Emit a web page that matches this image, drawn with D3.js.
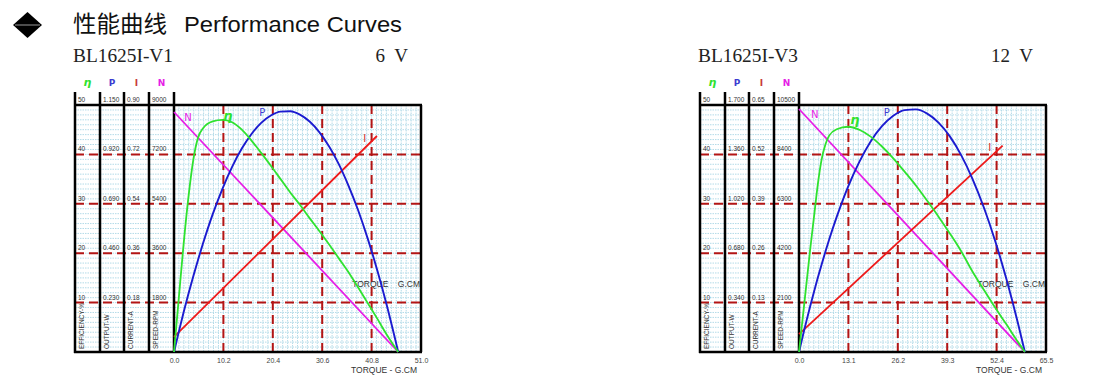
<!DOCTYPE html>
<html lang="zh">
<head>
<meta charset="UTF-8">
<title>性能曲线 Performance Curves</title>
<script src="https://d3js.org/d3.v7.min.js"></script>
<style>
  html, body { margin: 0; background: #fff; }
  svg { display: block; }
  .small { font-family: "Liberation Sans", Arial, sans-serif; font-size: 6.5px; fill: #333; }
  .axis-name { font-family: "Liberation Sans", Arial, sans-serif; font-size: 8.5px; fill: #333; white-space: pre; }
  .model { font-family: "Liberation Serif", "DejaVu Serif", serif; font-size: 19px; fill: #222; white-space: pre; }
</style>
</head>
<body>
<svg width="1100" height="380"></svg>
<script>
// ---- data, left chart (6 V) ----
const leftTorque  = [0, 1, 2, 3, 4, 5, 6, 8, 10, 12, 14, 16, 18, 20, 22, 24, 26, 28, 30, 32, 34, 36, 38, 40, 42, 44, 46.3];
const leftEff     = [0, 11, 22, 31.5, 39, 43.5, 45.3, 46.7, 47, 46.5, 45, 42.8, 40.3, 37.7, 35, 32.3, 29.8, 27.1, 24.5, 21.8, 19, 16.2, 13.1, 9.9, 6.7, 3.4, 0];
const leftPower   = [0, 0.095, 0.186, 0.272, 0.354, 0.432, 0.506, 0.642, 0.760, 0.862, 0.947, 1.015, 1.067, 1.101, 1.119, 1.121, 1.105, 1.073, 1.024, 0.958, 0.876, 0.776, 0.661, 0.528, 0.378, 0.212, 0];
const leftCurT    = [0, 41.9];
const leftCurrent = [0.055, 0.787];
const leftSpdT    = [0, 46.3];
const leftSpeed   = [8745, 0];
const leftXTicks  = [0, 10.2, 20.4, 30.6, 40.8, 51.0];
const leftEffTicks = ["10", "20", "30", "40", "50"];
const leftPowTicks = ["0.230", "0.460", "0.690", "0.920", "1.150"];
const leftCurTicks = ["0.18", "0.36", "0.54", "0.72", "0.90"];
const leftSpdTicks = ["1800", "3600", "5400", "7200", "9000"];

// ---- data, right chart (12 V) ----
const rightTorque  = [0, 1, 2, 3, 4, 5, 6, 7, 8, 10, 13, 16, 19, 22, 25, 28, 31, 34, 37, 40, 43, 46, 49, 52, 55, 58, 59.9];
const rightEff     = [0, 7, 14, 21, 27.5, 34, 39, 42, 43.8, 45.1, 45.6, 45, 43.6, 41.6, 39.2, 36.5, 33.7, 30.6, 27.4, 24, 20.4, 16.3, 12.6, 9, 5.6, 2.1, 0];
const rightPower   = [0, 0.110, 0.216, 0.318, 0.417, 0.512, 0.603, 0.690, 0.774, 0.930, 1.137, 1.309, 1.449, 1.554, 1.626, 1.665, 1.670, 1.641, 1.579, 1.484, 1.355, 1.192, 0.996, 0.766, 0.502, 0.205, 0];
const rightCurT    = [0, 54.0];
const rightCurrent = [0.047, 0.543];
const rightSpdT    = [0, 59.9];
const rightSpeed   = [10330, 0];
const rightXTicks  = [0, 13.1, 26.2, 39.3, 52.4, 65.5];
const rightEffTicks = ["10", "20", "30", "40", "50"];
const rightPowTicks = ["0.340", "0.680", "1.020", "1.360", "1.700"];
const rightCurTicks = ["0.13", "0.26", "0.39", "0.52", "0.65"];
const rightSpdTicks = ["2100", "4200", "6300", "8400", "10500"];

const colors = { eff: "#2fe22f", pow: "#1b1bd0", cur: "#ee1a1a", spd: "#e61ee6", grid: "#b31515", fine: "#b4dbe8" };

const svg = d3.select("svg");

// title
svg.append("path")
   .attr("d", "M27.5,12 L42,25 L27.5,38 L13,25 Z")
   .attr("fill", "#000");
svg.append("line").attr("x1", 15).attr("x2", 40).attr("y1", 25).attr("y2", 25)
   .attr("stroke", "#fff").attr("stroke-width", 0.6);
svg.append("text")
   .attr("x", 73).attr("y", 32)
   .attr("font-family", "'Noto Sans CJK SC', sans-serif").attr("font-size", 23)
   .attr("textLength", 94).attr("lengthAdjust", "spacingAndGlyphs")
   .attr("fill", "#111")
   .text("性能曲线");
svg.append("text")
   .attr("x", 184).attr("y", 32)
   .attr("font-family", "'Liberation Sans', Arial, sans-serif").attr("font-size", 22)
   .attr("textLength", 218).attr("lengthAdjust", "spacingAndGlyphs")
   .attr("fill", "#111")
   .text("Performance Curves");

function drawChart(ox, c) {
  const g = svg.append("g").attr("transform", `translate(${ox},0)`);
  const colX = [75, 100, 124, 149, 174];
  const left = 174, right = 421, top = 105, bottom = 352;

  const x = d3.scaleLinear().domain([0, c.xTicks[c.xTicks.length - 1]]).range([left, right]);
  const yE = d3.scaleLinear().domain([0, 50]).range([bottom, top]);
  const yP = d3.scaleLinear().domain([0, +c.powTicks[4]]).range([bottom, top]);
  const yI = d3.scaleLinear().domain([0, +c.curTicks[4]]).range([bottom, top]);
  const yN = d3.scaleLinear().domain([0, +c.spdTicks[4]]).range([bottom, top]);

  // model name and voltage
  g.append("text").attr("class", "model").attr("x", 73).attr("y", 62)
   .attr("textLength", 100).attr("lengthAdjust", "spacingAndGlyphs").text(c.model);
  g.append("text").attr("class", "model").attr("x", 408).attr("y", 62)
   .attr("text-anchor", "end").text(c.volt);

  // fine dotted grid
  const fineX = d3.range(1, 50).map(i => x.domain()[1] * i / 50);
  const fineY = d3.range(1, 50);
  g.append("g").selectAll("line").data(fineX).join("line")
   .attr("x1", d => x(d)).attr("x2", d => x(d)).attr("y1", top).attr("y2", bottom)
   .attr("stroke", colors.fine).attr("stroke-width", 1).attr("stroke-dasharray", "1.5,1");
  g.append("g").selectAll("line").data(fineY).join("line")
   .attr("x1", colX[0]).attr("x2", right).attr("y1", d => yE(d)).attr("y2", d => yE(d))
   .attr("stroke", colors.fine).attr("stroke-width", 1).attr("stroke-dasharray", "1.5,1");

  // major dashed grid
  g.append("g").selectAll("line").data([10, 20, 30, 40]).join("line")
   .attr("x1", colX[0]).attr("x2", right).attr("y1", d => yE(d)).attr("y2", d => yE(d))
   .attr("stroke", colors.grid).attr("stroke-width", 2).attr("stroke-dasharray", "9,5");
  g.append("g").selectAll("line").data(c.xTicks.slice(1, -1)).join("line")
   .attr("x1", d => x(d)).attr("x2", d => x(d)).attr("y1", top).attr("y2", bottom)
   .attr("stroke", colors.grid).attr("stroke-width", 2).attr("stroke-dasharray", "9,5");

  // frame
  const frame = g.append("g").attr("stroke", "#000").attr("stroke-width", 2.5);
  colX.forEach(cx => frame.append("line").attr("x1", cx).attr("x2", cx).attr("y1", 92).attr("y2", bottom + 1));
  frame.append("line").attr("x1", colX[0] - 1).attr("x2", right + 1).attr("y1", top).attr("y2", top);
  frame.append("line").attr("x1", colX[0] - 1).attr("x2", right + 1).attr("y1", bottom).attr("y2", bottom);
  frame.append("line").attr("x1", right).attr("x2", right).attr("y1", top).attr("y2", bottom);

  // column headers
  const heads = [["η", colors.eff], ["P", "#3c3cd0"], ["I", "#c83a3a"], ["N", colors.spd]];
  heads.forEach((h, i) => {
    g.append("text").attr("x", (colX[i] + colX[i + 1]) / 2).attr("y", 86)
     .attr("text-anchor", "middle").attr("font-family", "'DejaVu Sans', sans-serif")
     .attr("font-size", h[0] === "η" ? 11 : 9).attr("font-weight", "bold")
     .attr("font-style", h[0] === "η" ? "italic" : "normal")
     .attr("fill", h[1]).text(h[0]);
  });

  // column tick labels
  const cols = [c.effTicks, c.powTicks, c.curTicks, c.spdTicks];
  cols.forEach((arr, i) => {
    g.append("g").selectAll("text").data(arr).join("text")
     .attr("class", "small")
     .attr("x", colX[i] + 3)
     .attr("y", (d, j) => j === 4 ? 102 : yE((j + 1) * 10) - 3)
     .text(d => d);
  });
  const names = ["EFFICIENCY-%", "OUTPUT-W", "CURRENT-A", "SPEED-RPM"];
  names.forEach((n, i) => {
    g.append("text").attr("class", "small")
     .attr("transform", `translate(${colX[i] + 9},${bottom - 3}) rotate(-90)`)
     .text(n);
  });

  // torque axis
  const axis = g.append("g").attr("transform", `translate(0,${bottom + 3})`)
    .call(d3.axisBottom(x).tickValues(c.xTicks).tickSize(0).tickFormat(d3.format(".1f")));
  axis.select(".domain").remove();
  axis.selectAll("text").attr("fill", "#444").attr("font-size", 7)
      .attr("font-family", "'Liberation Sans', Arial, sans-serif");
  g.append("text").attr("class", "axis-name").attr("x", 417).attr("y", 373)
   .attr("text-anchor", "end").text("TORQUE - G.CM");
  g.append("text").attr("class", "axis-name").attr("x", 420).attr("y", 287)
   .attr("text-anchor", "end").text("TORQUE    G.CM");

  // curves
  const lineE = d3.line().x(d => x(d[0])).y(d => yE(d[1])).curve(d3.curveMonotoneX);
  const lineP = d3.line().x(d => x(d[0])).y(d => yP(d[1])).curve(d3.curveMonotoneX);
  const lineI = d3.line().x(d => x(d[0])).y(d => yI(d[1]));
  const lineN = d3.line().x(d => x(d[0])).y(d => yN(d[1]));
  g.append("path").datum(d3.zip(c.spdT, c.speed)).attr("d", lineN)
   .attr("fill", "none").attr("stroke", colors.spd).attr("stroke-width", 1.8);
  g.append("path").datum(d3.zip(c.curT, c.current)).attr("d", lineI)
   .attr("fill", "none").attr("stroke", colors.cur).attr("stroke-width", 1.8);
  g.append("path").datum(d3.zip(c.torque, c.power)).attr("d", lineP)
   .attr("fill", "none").attr("stroke", colors.pow).attr("stroke-width", 1.9);
  g.append("path").datum(d3.zip(c.torque, c.eff)).attr("d", lineE)
   .attr("fill", "none").attr("stroke", colors.eff).attr("stroke-width", 1.8);

  // curve labels (torque, efficiency-scale units)
  const labs = [["N", colors.spd, c.lab.N], ["η", colors.eff, c.lab.E], ["P", "#3c3cd0", c.lab.P], ["I", "#d02a2a", c.lab.I]];
  labs.forEach(l => {
    g.append("text").attr("x", x(l[2][0])).attr("y", yE(l[2][1]))
     .attr("text-anchor", "middle").attr("dominant-baseline", "middle")
     .attr("font-family", "'DejaVu Sans', sans-serif")
     .attr("font-size", l[0] === "η" ? 13 : 10).attr("font-weight", l[0] === "η" ? "bold" : "normal")
     .attr("font-style", l[0] === "η" ? "italic" : "normal")
     .attr("fill", l[1]).text(l[0]);
  });
}

drawChart(0, {
  model: "BL1625I-V1", volt: "6  V",
  torque: leftTorque, eff: leftEff, power: leftPower,
  curT: leftCurT, current: leftCurrent, spdT: leftSpdT, speed: leftSpeed,
  xTicks: leftXTicks, effTicks: leftEffTicks, powTicks: leftPowTicks, curTicks: leftCurTicks, spdTicks: leftSpdTicks,
  lab: { N: [2.9, 47.4], E: [11.1, 47.6], P: [18.2, 48.4], I: [39.4, 43.1] }
});
drawChart(625, {
  model: "BL1625I-V3", volt: "12  V",
  torque: rightTorque, eff: rightEff, power: rightPower,
  curT: rightCurT, current: rightCurrent, spdT: rightSpdT, speed: rightSpeed,
  xTicks: rightXTicks, effTicks: rightEffTicks, powTicks: rightPowTicks, curTicks: rightCurTicks, spdTicks: rightSpdTicks,
  lab: { N: [4.2, 48], E: [14.8, 46.8], P: [23.3, 48.4], I: [50.6, 41.3] }
});
</script>
</body>
</html>
